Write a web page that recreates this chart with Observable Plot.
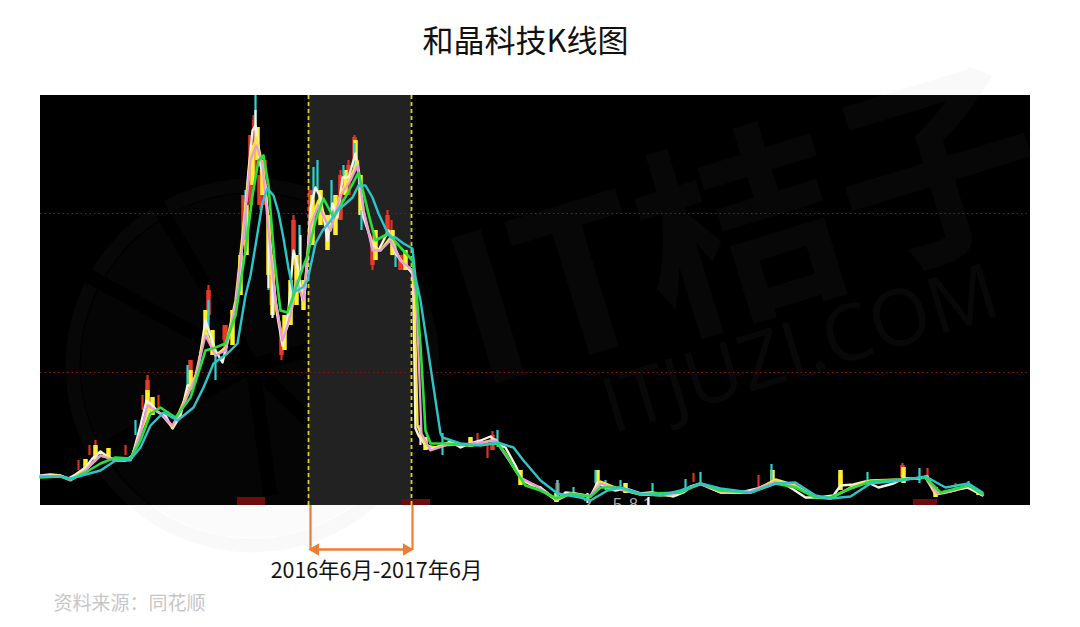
<!DOCTYPE html>
<html><head><meta charset="utf-8">
<script src="https://cdn.jsdelivr.net/npm/d3@7"></script>
<script src="https://cdn.jsdelivr.net/npm/@observablehq/plot@0.6"></script>
<style>
html,body{margin:0;padding:0;background:#fff}
svg{display:block;overflow:visible}
g[aria-label="line"],g[aria-label="rule"]{filter:blur(.6px)}
</style></head><body><div id="c"></div>
<script>
const titleText="和晶科技K线图", rangeText="2016年6月-2017年6月", sourceText="资料来源：同花顺";
const refLevels=[133,292];
const bandStart=308, bandEnd=411;

const closeDay=[40,50,60,68,75,85,92,100,107,115,125,132,140,146,152,158,165,172,180,187,193,198,205,210,215,222,230,238,243,248,252,255,260,265,270,276,282,288,293,297,302,305,310,315,320,327,332,337,342,348,355,358,363,372,378,388,395,403,412,413,415,418,425,430,440,450,460,470,480,490,500,505,515,522,530,540,550,556,565,575,585,590,597,605,615,625,640,650,660,673,683,690,700,710,720,740,757,772,783,793,805,818,833,840,853,865,878,893,903,917,927,935,947,967,982];
const closeVal=[30,31,30,27,31,38,47,54,49,45,45,50,80,105,100,93,90,77,90,120,120,140,185,170,155,143,175,215,275,335,375,380,340,320,255,195,160,195,255,240,205,218,298,318,308,265,302,288,328,328,352,332,288,262,255,275,252,242,232,205,77,70,60,56,60,64,58,62,65,69,60,58,40,25,21,18,10,5,13,12,10,9,23,18,15,17,12,13,12,9,13,19,22,17,13,13,17,23,22,16,8,8,10,20,21,24,18,22,27,27,29,12,14,18,10];

const yellowDay=[40,60,70,85,100,115,130,142,150,160,172,185,195,205,215,225,235,243,250,256,262,268,275,282,290,296,303,310,318,330,340,350,357,363,372,380,390,400,412,414,417,425,435,450,470,495,505,520,535,556,570,590,600,620,640,670,700,720,750,775,795,815,830,850,870,900,925,935,950,968,982];
const yellowVal=[29,30,26,36,50,46,46,78,98,92,78,108,130,175,150,158,205,280,350,368,340,285,205,165,188,225,205,285,305,275,312,328,345,295,258,255,268,245,235,205,80,60,58,62,60,66,52,27,20,5,12,9,24,16,11,10,22,13,13,26,20,8,7,18,25,26,28,11,14,20,11];

const pinkDay=[40,60,70,85,100,115,130,140,147,160,172,185,195,205,215,225,235,243,250,256,262,268,275,282,290,296,303,310,318,330,340,350,357,363,372,380,390,400,412,416,421,430,445,470,495,505,520,535,556,570,590,600,620,640,670,700,720,750,775,795,815,830,850,870,900,925,937,950,968,982];
const pinkVal=[30,29,25,35,50,45,45,72,100,92,80,105,128,170,150,155,200,270,345,360,340,275,205,165,190,225,205,280,300,275,310,325,340,295,255,255,265,245,235,205,72,55,60,62,65,50,28,20,6,12,10,22,16,11,11,21,14,14,24,19,8,8,17,24,26,28,12,14,20,12];

const greenDay=[40,60,70,85,100,115,130,140,150,160,175,190,205,215,225,235,245,252,258,263,268,274,280,287,293,302,307,315,323,333,347,358,368,375,388,400,412,416,420,425,430,445,470,497,505,515,525,540,556,570,590,600,620,640,650,680,700,720,750,775,795,815,830,850,870,900,925,940,968,982];
const greenVal=[28,29,26,33,42,48,47,65,92,98,88,108,155,158,162,190,255,310,345,350,320,245,195,193,210,237,250,285,307,288,312,333,292,265,272,258,245,215,160,75,62,62,60,62,52,35,20,15,7,12,9,18,18,11,12,13,22,15,13,22,18,8,8,17,24,26,28,13,20,11];

const cyanDay=[40,60,70,85,100,115,130,140,150,163,177,193,203,213,227,237,245,250,255,262,267,273,278,283,288,293,302,307,315,322,328,337,343,352,358,365,372,378,385,390,395,403,412,415,420,428,435,440,442,460,480,497,513,523,540,557,580,590,607,620,640,660,680,700,720,750,775,795,815,830,850,870,900,925,945,968,982];
const cyanVal=[29,29,27,31,35,45,46,58,80,93,85,98,118,142,152,162,210,230,260,303,317,310,293,267,237,213,218,225,262,275,282,295,300,308,320,320,308,292,277,268,268,262,257,228,205,152,105,72,68,62,60,63,58,45,25,12,8,5,15,18,12,10,15,22,17,13,22,23,10,7,9,22,25,29,18,22,13];

const yellowBodyDay=[85,95,108,147,152,190,205,212,232,240,246,252,257,262,268,272,284,290,296,303,312,320,327,335,345,355,360,375,392,405,425,470,520,556,597,625,772,840,903,935,978];
const yellowBodyLow=[36,45,48,90,90,115,170,150,160,210,250,320,345,310,230,190,155,180,200,195,260,280,255,270,310,335,290,245,250,235,55,58,20,3,15,12,20,15,22,8,10];
const yellowBodyHigh=[46,60,57,115,108,135,195,175,195,250,300,360,378,345,290,250,190,225,250,225,310,315,290,310,335,365,330,275,275,255,68,68,35,12,35,22,35,35,38,18,15];

const redBodyDay=[147,190,208,225,243,250,254,259,264,281,293,310,327,340,348,354,372,387,400,492,557,840,902];
const redBodyLow=[100,125,190,150,260,300,330,300,300,150,240,280,258,285,310,345,240,270,235,55,5,20,28];
const redBodyHigh=[125,145,215,180,310,370,385,330,345,175,285,315,275,330,340,368,265,290,250,70,22,30,40];

const redWickDay=[78,89,95,125,142,147,158,190,208,223,232,253,260,270,281,293,327,340,348,354,372,387,391,401,477,487,492,557,693,758,840,902,927,955];
const redWickLow=[35,50,55,50,95,110,95,125,185,165,175,320,295,200,145,250,260,290,310,345,235,270,255,235,60,47,58,10,23,18,15,28,23,13];
const redWickHigh=[45,60,65,60,110,130,110,145,220,180,195,390,335,245,170,290,268,335,345,370,270,295,285,250,72,62,74,25,32,30,35,42,37,22];

const cyanWickDay=[135,187,208,215,245,255,268,299,313,317,331,343,354,361,395,442,497,557,573,595,605,620,652,685,700,771,867,919,968];
const cyanWickLow=[70,115,170,125,265,375,215,250,305,315,295,330,335,275,238,50,58,7,8,22,15,17,10,15,20,22,20,22,17];
const cyanWickHigh=[85,140,205,155,315,410,285,280,338,345,325,340,362,295,262,72,75,25,18,35,25,25,22,26,33,41,33,37,24];

const whiteWickDay=[255,268,272,300,420,587,648];
const whiteWickLow=[365,217,187,233,60,2,0];
const whiteWickHigh=[395,283,225,270,80,12,8];

const signalStart=[237,401,913], signalEnd=[265,430,937], signalTop=[8,6,6];
const clippedDigits=[{d:587,t:"2"},{d:617,t:"5"},{d:633,t:"8"},{d:647,t:"1"}];

const toRows=(d,a,b)=>d.map((x,i)=>({x,a:a[i],b:b?b[i]:0}));
const band=[{a:bandStart,b:bandEnd}];
const wm="#8a8a8a";
const cjk="Noto Sans CJK SC";

const line=(d,v,stroke,w=2.4)=>Plot.line(toRows(d,v),{x:"x",y:"a",stroke:()=>stroke,strokeWidth:w,curve:"linear"});
const bars=(d,l,h,stroke,w)=>Plot.ruleX(toRows(d,l,h),{x:"x",y1:"a",y2:"b",stroke:()=>stroke,strokeWidth:w});

const chart=Plot.plot({
  width:1080,height:627,
  marginLeft:40,marginRight:50,marginTop:95,marginBottom:122,
  x:{domain:[40,1030],axis:null},
  y:{domain:[0,410],axis:null},
  color:{type:"identity"},
  style:{background:"#fff"},
  marks:[
    Plot.rect([0],{x1:()=>40,x2:()=>1030,y1:()=>0,y2:()=>410,fill:()=>"#000"}),
    Plot.dot([0],{x:()=>252,y:()=>140,r:172,fill:()=>wm,fillOpacity:.035}),
    Plot.dot([0],{x:()=>252,y:()=>140,r:180,fill:"none",stroke:()=>wm,strokeOpacity:.05,strokeWidth:14}),
    Plot.link([[60,245],[140,330],[375,20],[270,10],[110,60],[420,185]],{
      x1:()=>252,y1:()=>140,x2:d=>d[0],y2:d=>d[1],stroke:()=>"#000",strokeWidth:14,clip:true}),
    Plot.text(["IT桔子"],{x:()=>748,y:()=>268,text:d=>d,rotate:-17,fontSize:205,fontWeight:"bold",fontFamily:cjk,fill:()=>wm,fillOpacity:.05}),
    Plot.text(["ITJUZI.COM"],{x:()=>800,y:()=>155,text:d=>d,rotate:-17,fontSize:78,fontFamily:"Open Sans",fill:()=>wm,fillOpacity:.055}),
    Plot.rect(band,{x1:"a",x2:"b",y1:()=>0,y2:()=>410,fill:()=>"#262626",fillOpacity:.9}),
    Plot.ruleY(refLevels,{stroke:()=>"#8a1512",strokeWidth:1,strokeDasharray:"1.5,3",x1:()=>40,x2:()=>1030}),
    Plot.rect(signalStart.map((s,i)=>({s,e:signalEnd[i],t:signalTop[i]})),{x1:"s",x2:"e",y1:()=>0,y2:"t",fill:()=>"#6e0c0c"}),
    Plot.text(clippedDigits,{x:"d",y:()=>1,text:"t",fontSize:16,fontFamily:"Liberation Sans",fill:()=>"#aaa",clip:true}),
    Plot.ruleX([bandStart,bandEnd],{y1:()=>0,y2:()=>410,stroke:()=>"#d8d21e",strokeWidth:1.8,strokeDasharray:"4,3"}),
    bars(redWickDay,redWickLow,redWickHigh,"#e0301f",2.2),
    bars(redBodyDay,redBodyLow,redBodyHigh,"#e8392a",4.5),
    bars(yellowBodyDay,yellowBodyLow,yellowBodyHigh,"#fff02c",4.5),
    bars(cyanWickDay,cyanWickLow,cyanWickHigh,"#2fd0cf",2.2),
    bars(whiteWickDay,whiteWickLow,whiteWickHigh,"#f4f4f4",2.2),
    line(closeDay,closeVal,"#f6f2e4",2.4),
    line(yellowDay,yellowVal,"#f7e84a",2.4),
    line(pinkDay,pinkVal,"#e79be0",2.2),
    line(greenDay,greenVal,"#27e03a",2.6),
    line(cyanDay,cyanVal,"#2cc6c8",2.4),
    Plot.ruleX([310,412],{y1:()=>0,y2:()=>-45,stroke:()=>"#ed7d31",strokeWidth:2.2}),
    Plot.ruleY([-44],{x1:()=>314,x2:()=>409,stroke:()=>"#ed7d31",strokeWidth:2.5}),
    Plot.dot([{x:315,r:-90},{x:406,r:90}],{x:"x",y:()=>-44,symbol:"triangle",r:4.6,rotate:"r",fill:()=>"#ed7d31"}),
    Plot.text([rangeText],{x:()=>376,y:()=>-66,text:d=>d,fontSize:21.4,fontFamily:cjk,fill:()=>"#111"}),
    Plot.text([titleText],{x:()=>525,y:()=>463,text:d=>d,fontSize:31,fontFamily:cjk,fill:()=>"#111"}),
    Plot.text([sourceText],{x:()=>53,y:()=>-98,text:d=>d,textAnchor:"start",fontSize:19,fontFamily:cjk,fill:()=>"#c6c6c6"})
  ]
});
document.getElementById("c").append(chart);
</script></body></html>
